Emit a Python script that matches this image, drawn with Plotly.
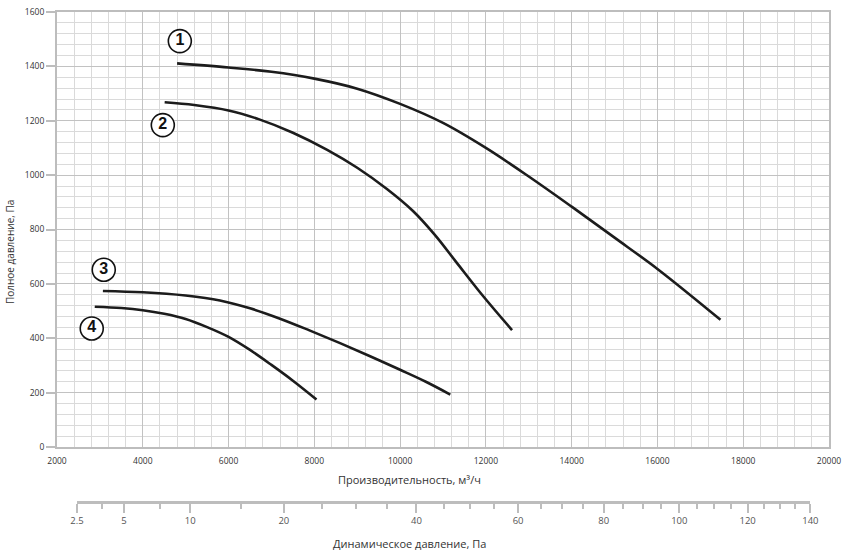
import numpy as np
import plotly.graph_objects as go

# ---------------- data ----------------
flow_1 = [4800, 6000, 7000, 8000, 9000, 10000, 11000, 12000, 13000, 14000, 15000, 16000, 17470]
pressure_1 = [1411, 1396, 1380, 1355, 1318, 1262, 1192, 1100, 995, 884, 770, 655, 468]

flow_2 = [4510, 5200, 6000, 6700, 7500, 8300, 9000, 9700, 10300, 10800, 11300, 11900, 12610]
pressure_2 = [1268, 1258, 1238, 1206, 1156, 1093, 1027, 948, 868, 782, 682, 562, 430]

flow_3 = [3070, 4000, 5000, 5800, 6500, 7200, 7900, 8600, 9300, 10000, 10600, 11170]
pressure_3 = [574, 569, 557, 539, 510, 472, 428, 382, 334, 284, 240, 193]

flow_4 = [2880, 3500, 4000, 4500, 5000, 5500, 6000, 6500, 7000, 7500, 8050]
pressure_4 = [516, 511, 503, 490, 471, 441, 405, 357, 302, 244, 175]

curve_labels = ["1", "2", "3", "4"]
label_flow = [4864, 4467, 3090, 2810]
label_pressure = [1493, 1184, 652, 436]

x_ticks = list(range(2000, 20001, 2000))
x_tick_text = [str(v) for v in x_ticks]
y_ticks = list(range(0, 1601, 200))
y_tick_text = [str(v) for v in y_ticks]

dyn_major = [2.5, 5, 10, 20, 40, 60, 80, 100, 120, 140]
dyn_major_text = ["2.5", "5", "10", "20", "40", "60", "80", "100", "120", "140"]
dyn_minor = [3.75, 7.5, 15, 25, 30, 35, 45, 50, 55, 65, 70, 75, 85, 90, 95,
             105, 110, 115, 125, 130, 135]

x_title = "Производительность, м³/ч"
y_title = "Полное давление, Па"
x2_title = "Динамическое давление, Па"

# ---------------- scales / styles ----------------
X_RANGE = [2000, 20000]
Y_RANGE = [0, 1600]
# dynamic-pressure scale calibration: flow = A + B*sqrt(Pd)
DYN_A, DYN_B = -170.0, 1668.0

W, H = 851, 554
ML, MR, MT, MB = 57, 22, 12, 53
PLOT_BOTTOM_PX = 447
paper_h = H - MT - MB
paper_w = W - ML - MR
y_dom0 = (H - MB - PLOT_BOTTOM_PX) / paper_h


def flow_frac(q):
    return (q - X_RANGE[0]) / (X_RANGE[1] - X_RANGE[0])


sq_major = [float(np.sqrt(v)) for v in dyn_major]
sq_minor = [float(np.sqrt(v)) for v in dyn_minor]
d0 = flow_frac(DYN_A + DYN_B * sq_major[0])
d1 = flow_frac(DYN_A + DYN_B * sq_major[-1])

GRID_MAJOR = "#c2c2c2"
GRID_MINOR = "#dadada"
FRAME = "#bdbdbd"
LINE_COLOR = "#1c1c1c"
FONT = "Open Sans"

fig = go.Figure()
for fx, py in [(flow_1, pressure_1), (flow_2, pressure_2), (flow_3, pressure_3), (flow_4, pressure_4)]:
    fig.add_trace(go.Scatter(x=fx, y=py, mode="lines",
                             line=dict(color=LINE_COLOR, width=2.6, shape="spline", smoothing=1.0),
                             hoverinfo="skip", showlegend=False))

fig.add_trace(go.Scatter(x=label_flow, y=label_pressure, mode="markers+text",
                         text=curve_labels, textposition="middle center",
                         textfont=dict(family="Liberation Sans Narrow, Liberation Sans", size=16,
                                       color="#111", weight="bold"),
                         marker=dict(size=23, color="white", line=dict(color="#111", width=1.6)),
                         hoverinfo="skip", showlegend=False, cliponaxis=False))

# invisible trace for the dynamic pressure axis subplot
fig.add_trace(go.Scatter(x=sq_major, y=[0] * len(sq_major), xaxis="x2", yaxis="y2",
                         mode="none", hoverinfo="skip", showlegend=False))

fig.update_layout(
    width=W, height=H,
    margin=dict(l=ML, r=MR, t=MT, b=MB, pad=0, autoexpand=False),
    paper_bgcolor="white", plot_bgcolor="white",
    font=dict(family=FONT, color="#333"),
    xaxis=dict(range=X_RANGE, domain=[0, 1], tickmode="array", tickvals=x_ticks, ticktext=x_tick_text,
               showgrid=True, gridcolor=GRID_MAJOR, gridwidth=1.4,
               minor=dict(dtick=400, tick0=2000, showgrid=True, gridcolor=GRID_MINOR, gridwidth=1.2),
               showline=True, linecolor=FRAME, linewidth=2, mirror=True,
               ticks="outside", ticklen=5, tickcolor="rgba(0,0,0,0)", automargin=False,
               tickfont=dict(size=8.5, color="#333"), zeroline=False, anchor="y"),
    yaxis=dict(range=Y_RANGE, domain=[y_dom0, 1], tickmode="array", tickvals=y_ticks, ticktext=y_tick_text,
               showgrid=True, gridcolor=GRID_MAJOR, gridwidth=1.4,
               minor=dict(dtick=40, tick0=0, showgrid=True, gridcolor=GRID_MINOR, gridwidth=1.2),
               showline=True, linecolor=FRAME, linewidth=2, mirror=True, automargin=False,
               ticks="outside", ticklen=9, tickwidth=2, tickcolor=FRAME,
               tickfont=dict(size=8.5, color="#333"), zeroline=False, anchor="x"),
    xaxis2=dict(range=[sq_major[0], sq_major[-1]], domain=[d0, d1], anchor="y2",
                tickmode="array", tickvals=sq_major, ticktext=dyn_major_text,
                showgrid=False, zeroline=False, automargin=False,
                showline=True, linecolor=FRAME, linewidth=3,
                ticks="outside", ticklen=9, tickwidth=2, tickcolor=FRAME,
                minor=dict(tickmode="array", tickvals=sq_minor, ticks="outside", ticklen=5,
                           tickwidth=2, tickcolor=FRAME, showgrid=False),
                tickfont=dict(size=9.5, color="#555")),
    yaxis2=dict(domain=[0, 0.001], visible=False, anchor="x2", range=[0, 1], automargin=False),
    annotations=[
        dict(text=x_title, xref="paper", yref="paper",
             x=(409 - ML) / paper_w, y=(H - MB - 479) / paper_h,
             showarrow=False, xanchor="center", yanchor="middle",
             font=dict(size=11, color="#333")),
        dict(text=x2_title, xref="paper", yref="paper",
             x=(409 - ML) / paper_w, y=(H - MB - 543) / paper_h,
             showarrow=False, xanchor="center", yanchor="middle",
             font=dict(size=11, color="#333")),
        dict(text=y_title, xref="paper", yref="paper",
             x=(10 - ML) / paper_w, y=(H - MB - 252) / paper_h,
             showarrow=False, xanchor="center", yanchor="middle", textangle=-90,
             font=dict(size=10, color="#333")),
    ],
)

fig.write_html("out.html")
